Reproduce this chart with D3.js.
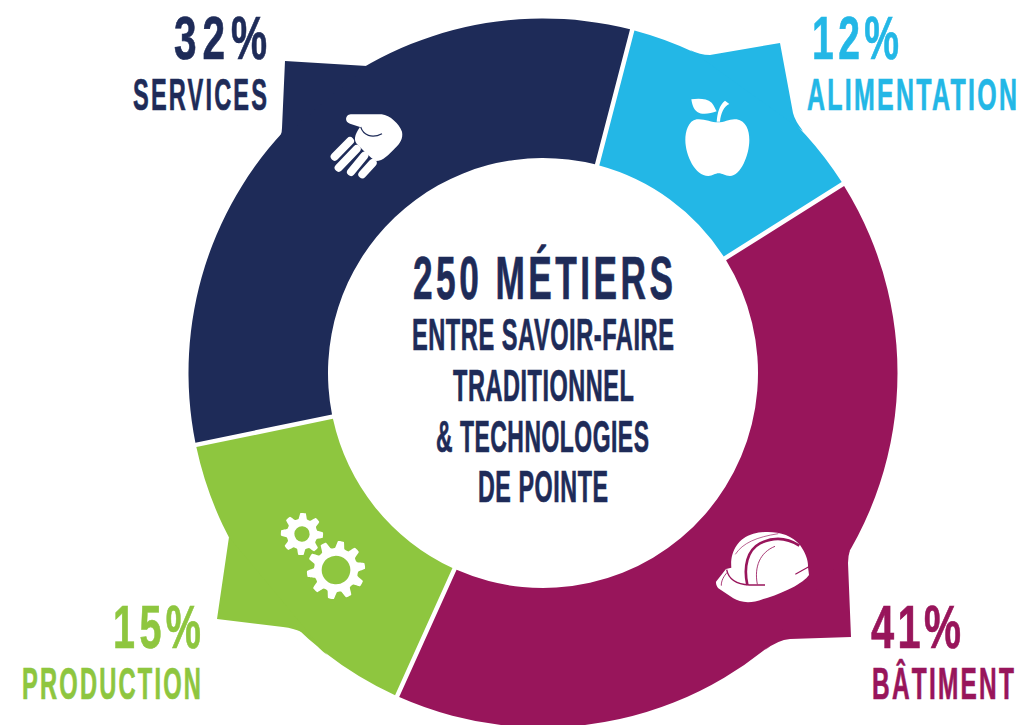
<!DOCTYPE html>
<html>
<head>
<meta charset="utf-8">
<script src="https://cdn.jsdelivr.net/npm/d3@7"></script>
<style>
  body { margin: 0; background: #fff; }
  svg { display: block; }
  text { font-family: "Liberation Sans Narrow", "Liberation Sans", sans-serif; font-weight: bold; }
</style>
</head>
<body>
<div id="chart"></div>
<script>
// values (angles of the slices give the decimals)
const categories = ["SERVICES", "ALIMENTATION", "BÂTIMENT", "PRODUCTION"];
const shares = [32.3, 12, 40.7, 15];
const colors = ["#1e2b58", "#23b7e6", "#98155b", "#8ec63f"];
const centerTitle = "250 MÉTIERS";
const centerLines = ["ENTRE SAVOIR-FAIRE", "TRADITIONNEL", "& TECHNOLOGIES", "DE POINTE"];

const width = 1024, height = 725;
const cx = 543, cy = 373, outerR = 354.5, innerR = 215;
const gap = 4.5;
const startAngle = -101.7 * Math.PI / 180;

const svg = d3.select("#chart").append("svg")
  .attr("width", width)
  .attr("height", height);

const ring = svg.append("g").attr("transform", `translate(${cx},${cy})`);

const pie = d3.pie().sort(null).startAngle(startAngle).endAngle(startAngle + 2 * Math.PI);
const arc = d3.arc()
  .innerRadius(innerR)
  .outerRadius(outerR)
  .padAngle(gap / outerR)
  .padRadius(outerR);

// the flaps that stick out of the ring next to each label (page coordinates)
const tabs = [
  "M277,142 Q282,135 282,128 L285,61 L367,66 Z",
  "M690,50 Q700,55 710,55 L780,43 L793,113 Q795,121 803,131 Z",
  "M850,550 Q848,556 848,563 L851,637 L790,639 Q778,640 765,650 Z",
  "M229,537 L217,619 L283,627 C298,629 306,633 313,640 Q318,648 327,655 Z"
];

svg.selectAll("path.tab")
  .data(tabs)
  .enter()
  .append("path")
  .attr("class", "tab")
  .attr("d", d => d)
  .attr("fill", (d, i) => colors[i]);

ring.selectAll("path.slice")
  .data(pie(shares))
  .enter()
  .append("path")
  .attr("class", "slice")
  .attr("d", arc)
  .attr("fill", (d, i) => colors[i]);

// condensed look: squeeze the text to the width it has in the picture
function fitText(x, baseline, w, str, size, color, tracking) {
  const t = svg.append("text")
    .attr("font-size", size)
    .attr("letter-spacing", tracking)
    .attr("fill", color)
    .attr("stroke", color)
    .attr("stroke-width", 0.7)
    .text(str);
  const len = t.node().getComputedTextLength() - tracking;
  t.attr("transform", `translate(${x},${baseline}) scale(${w / len},1)`);
}

const pct = d => d3.format(".0f")(d) + "%";
const pctPos = [[174, 93, 59], [812, 87, 59], [871, 90, 648], [113, 88, 648]];
const pctTracking = [9, 7, 5, 7];
const namePos = [[133, 134, 110], [807, 210, 110], [872, 142, 699], [22, 179, 699]];

shares.forEach((v, i) => {
  fitText(pctPos[i][0], pctPos[i][2], pctPos[i][1], pct(v), 62, colors[i], pctTracking[i]);
  fitText(namePos[i][0], namePos[i][2], namePos[i][1], categories[i], 43.5, colors[i], 4);
});

fitText(413, 299, 260, centerTitle, 61, colors[0], 6);
const linePos = [[412, 262, 350], [453, 181, 401], [436, 213, 452], [478, 130, 502]];
centerLines.forEach((s, i) => {
  fitText(linePos[i][0], linePos[i][2], linePos[i][1], s, 43.5, colors[0], 1);
});

// icons, drawn in the 3x units of the crop they were traced from
function icon(x, y) {
  return svg.append("g").attr("transform", `translate(${x},${y}) scale(${1 / 3})`);
}

// hand
const hand = icon(320, 105);
hand.append("path")
  .attr("fill", "#fff")
  .attr("d", "M92,28 L185,28 C210,30 238,58 246,80 C250,100 240,115 225,130 C205,150 190,168 168,168 C150,158 125,130 110,116 C102,105 102,92 120,66 L90,56 C74,52 74,30 92,28 Z");
hand.append("path")
  .attr("fill", "none")
  .attr("stroke", colors[0])
  .attr("stroke-width", 3.5)
  .attr("d", "M122,66 C130,90 155,102 186,86");
hand.selectAll("line")
  .data([[90, 108, 44, 155], [110, 132, 56, 188], [133, 152, 93, 201], [158, 174, 127, 208]])
  .enter()
  .append("line")
  .attr("x1", d => d[0]).attr("y1", d => d[1])
  .attr("x2", d => d[2]).attr("y2", d => d[3])
  .attr("stroke", "#fff")
  .attr("stroke-width", 24)
  .attr("stroke-linecap", "round");

// apple
const apple = icon(670, 90);
apple.append("path")
  .attr("fill", "#fff")
  .attr("d", "M143,97 C125,97 100,85 80,88 C55,92 46,125 46,150 C46,195 75,258 115,258 C128,258 135,250 146,250 C157,250 165,258 180,258 C212,258 238,195 238,150 C238,120 228,93 200,88 C180,85 165,97 143,97 Z");
apple.append("path")
  .attr("fill", "#fff")
  .attr("d", "M64,28 C85,25 110,25 125,38 C132,47 137,58 140,64 C120,72 95,75 82,66 C70,58 66,42 64,28 Z");
apple.append("path")
  .attr("fill", "#fff")
  .attr("d", "M140,95 C142,70 148,45 165,32 L178,42 C162,48 152,70 150,95 Z");

// gears
function gearPath(teeth, rOut, rIn) {
  const pts = [];
  const step = 2 * Math.PI / teeth;
  for (let i = 0; i < teeth; i++) {
    const a = i * step;
    pts.push([a - step * 0.16, rOut], [a + step * 0.16, rOut], [a + step * 0.34, rIn], [a + step * 0.66, rIn]);
  }
  return d3.lineRadial().curve(d3.curveCardinalClosed.tension(0.6))(pts);
}
const gears = icon(270, 505);
const smallGear = gears.append("g").attr("transform", "translate(96,87) rotate(3)");
smallGear.append("path").attr("fill", "#fff").attr("d", gearPath(8, 63, 47));
smallGear.append("circle").attr("r", 23).attr("fill", colors[3]);
const bigGear = gears.append("g").attr("transform", "translate(198,195) rotate(10)");
bigGear.append("path").attr("fill", "#fff")
  .attr("stroke", colors[3]).attr("stroke-width", 8).attr("paint-order", "stroke")
  .attr("d", gearPath(10, 87, 67));
bigGear.append("circle").attr("r", 43).attr("fill", colors[3]);

// helmet
const helmet = icon(710, 525);
helmet.append("path")
  .attr("fill", "#fff")
  .attr("d", "M18,170 L48,132 L64,128 C60,85 80,40 130,26 C180,14 240,22 270,60 C288,85 295,108 294,126 L297,150 C280,175 220,205 160,222 C120,238 90,232 70,220 L25,190 C18,180 18,175 18,170 Z");
helmet.selectAll("path.detail")
  .data([
    ["M112,180 C100,125 112,75 150,55 C185,38 225,34 268,62", 8],
    ["M142,178 C132,125 150,82 195,64", 2.5],
    ["M76,88 C98,54 140,36 205,26", 2],
    ["M50,134 C56,165 80,178 118,180 L165,180", 4],
    ["M295,126 L256,148", 3.5],
    ["M34,182 C33,168 42,152 52,142", 2.5]
  ])
  .enter()
  .append("path")
  .attr("class", "detail")
  .attr("fill", "none")
  .attr("stroke", colors[2])
  .attr("stroke-width", d => d[1])
  .attr("d", d => d[0]);
</script>
</body>
</html>
